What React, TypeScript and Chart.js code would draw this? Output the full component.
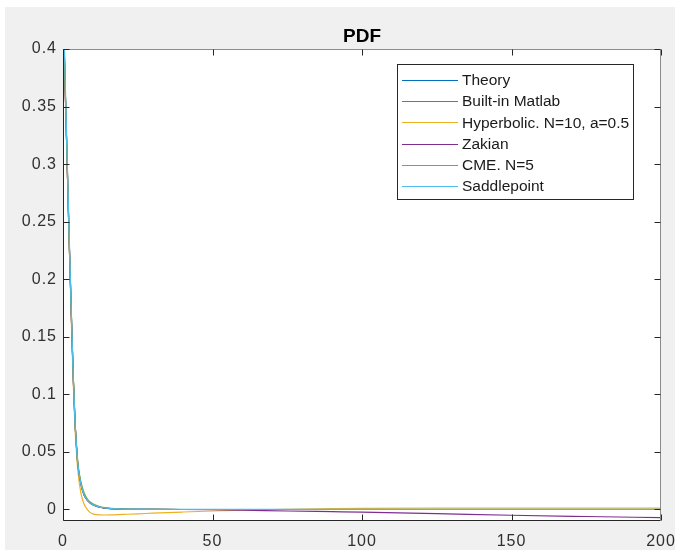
import React, { useEffect, useRef } from "react";
import { Chart, registerables } from "chart.js";

Chart.register(...registerables);

const titleText = "PDF";
const seriesNames = [
  "Theory",
  "Built-in Matlab",
  "Hyperbolic. N=10, a=0.5",
  "Zakian",
  "CME. N=5",
  "Saddlepoint",
];
const seriesColors = ["#0072BD", "#D95319", "#EDB120", "#7E2F8E", "#77AC30", "#4DBEEE"];

const xTicks = [0, 50, 100, 150, 200];
const xTickLabels = ["0", "50", "100", "150", "200"];
const yTicks = [0, 0.05, 0.1, 0.15, 0.2, 0.25, 0.3, 0.35, 0.4];
const yTickLabels = ["0", "0.05", "0.1", "0.15", "0.2", "0.25", "0.3", "0.35", "0.4"];

const xValues = [0, 0.5, 1, 1.5, 2, 2.5, 3, 3.5, 4, 4.5, 5, 6, 7, 8, 9, 10, 12, 14, 16, 20, 25, 30, 40, 50, 60, 75, 90, 100, 125, 150, 175, 200];

const theory = [0.45, 0.39, 0.34, 0.29, 0.24, 0.195, 0.15, 0.11, 0.077, 0.055, 0.038, 0.022, 0.013, 0.0085, 0.0058, 0.0042, 0.0022, 0.0012, 0.0007, 0.0003, 0.0001, 0.00005, 0, 0, 0, 0, 0, 0, 0, 0, 0, 0];
const builtIn = [0.45, 0.39, 0.34, 0.29, 0.24, 0.195, 0.15, 0.11, 0.077, 0.055, 0.038, 0.022, 0.013, 0.0085, 0.0058, 0.0042, 0.0022, 0.0012, 0.0007, 0.0003, 0.0001, 0.00005, 0, 0, 0, 0, 0, 0, 0, 0, 0, 0];
const hyperbolic = [0.45, 0.39, 0.34, 0.29, 0.24, 0.192, 0.145, 0.105, 0.072, 0.05, 0.033, 0.014, 0.005, 0.0005, -0.0025, -0.0038, -0.0047, -0.0048, -0.0047, -0.0043, -0.0038, -0.0032, -0.0022, -0.0013, -0.0006, 0.0002, 0.0008, 0.001, 0.0011, 0.0011, 0.0011, 0.0011];
const zakian = [0.45, 0.39, 0.34, 0.29, 0.24, 0.195, 0.15, 0.11, 0.077, 0.055, 0.038, 0.022, 0.013, 0.0085, 0.0058, 0.0042, 0.0022, 0.0012, 0.0007, 0.0003, 0.0001, 0.00005, 0, -0.0002, -0.0006, -0.0013, -0.0019, -0.0023, -0.0036, -0.005, -0.0061, -0.0071];
const cme = [0.45, 0.39, 0.34, 0.29, 0.24, 0.196, 0.152, 0.112, 0.079, 0.057, 0.04, 0.024, 0.015, 0.0098, 0.0068, 0.005, 0.0028, 0.0016, 0.0009, 0.0004, 0.0002, 0.0001, 0, 0, 0, 0, 0, 0, 0, 0, 0, 0];
const saddlepoint = [0.46, 0.4, 0.345, 0.295, 0.245, 0.198, 0.152, 0.11, 0.077, 0.055, 0.038, 0.022, 0.013, 0.0085, 0.0058, 0.0042, 0.0023, 0.0013, 0.0008, 0.0004, 0.0003, 0.0002, 0.0002, 0.0002, 0.0002, 0.0002, 0.0002, 0.0002, 0.0002, 0.0002, 0.0002, 0.0002];

const seriesValues = [theory, builtIn, hyperbolic, zakian, cme, saddlepoint];

const FONT = "'Liberation Sans', Arial, Helvetica, sans-serif";
const AXIS = "#262626";
const LABEL = "#303030";

const framePlugin = {
  id: "matlabFrame",
  beforeDraw(chart: any) {
    const { ctx, width, height, chartArea } = chart;
    ctx.save();
    ctx.fillStyle = "#ffffff";
    ctx.fillRect(0, 0, width, height);
    ctx.fillStyle = "#f0f0f0";
    ctx.fillRect(5, 7, width - 5, height - 7);
    ctx.fillStyle = "#ffffff";
    ctx.fillRect(chartArea.left, chartArea.top, chartArea.right - chartArea.left, chartArea.bottom - chartArea.top);
    ctx.restore();
    // slightly wider tick label spacing, as in the MATLAB rendering
    (ctx as any).letterSpacing = "1px";
  },
  afterDraw(chart: any) {
    const { ctx, chartArea } = chart;
    (ctx as any).letterSpacing = "0px";
    const xs = chart.scales.x;
    const ys = chart.scales.y;
    const L = Math.round(chartArea.left) + 0.5;
    const R = Math.round(chartArea.right) - 0.5;
    const T = Math.round(chartArea.top) + 0.5;
    const B = Math.round(chartArea.bottom) - 0.5;
    ctx.save();
    ctx.lineWidth = 1;
    ctx.strokeStyle = "#8c8c8c";
    ctx.beginPath();
    ctx.moveTo(L, T);
    ctx.lineTo(R, T);
    ctx.lineTo(R, B);
    ctx.stroke();
    ctx.strokeStyle = AXIS;
    ctx.beginPath();
    ctx.moveTo(L, T);
    ctx.lineTo(L, B);
    ctx.lineTo(R, B);
    ctx.stroke();
    const tl = 6;
    ctx.beginPath();
    xTicks.forEach((v) => {
      const px = Math.round(xs.getPixelForValue(v)) + 0.5;
      ctx.moveTo(px, B);
      ctx.lineTo(px, B - tl);
      ctx.moveTo(px, T);
      ctx.lineTo(px, T + tl);
    });
    yTicks.forEach((v) => {
      const py = Math.round(ys.getPixelForValue(v)) + 0.5;
      ctx.moveTo(L, py);
      ctx.lineTo(L + tl, py);
      ctx.moveTo(R, py);
      ctx.lineTo(R - tl, py);
    });
    ctx.stroke();

    ctx.fillStyle = "#000000";
    ctx.font = `bold 19px ${FONT}`;
    ctx.textAlign = "center";
    ctx.textBaseline = "alphabetic";
    ctx.fillText(titleText, (chartArea.left + chartArea.right) / 2, 42);

    const bx = 397.5, by = 64.5, bw = 236, bh = 135;
    ctx.fillStyle = "#ffffff";
    ctx.fillRect(bx, by, bw, bh);
    ctx.strokeStyle = AXIS;
    ctx.strokeRect(bx, by, bw, bh);
    ctx.font = `15.5px ${FONT}`;
    ctx.textAlign = "left";
    ctx.textBaseline = "middle";
    seriesNames.forEach((name, i) => {
      const cy = 80 + 21.2 * i;
      ctx.strokeStyle = seriesColors[i];
      ctx.lineWidth = 1.2;
      ctx.beginPath();
      ctx.moveTo(402, Math.round(cy) + 0.5);
      ctx.lineTo(458, Math.round(cy) + 0.5);
      ctx.stroke();
      ctx.fillStyle = "#1a1a1a";
      ctx.fillText(name, 462, cy + 1);
    });
    ctx.restore();
  },
};

export default function App() {
  const ref = useRef<HTMLCanvasElement | null>(null);

  useEffect(() => {
    document.body.style.margin = "0";
    const canvas = ref.current;
    if (!canvas) return;
    const datasets = seriesNames.map((name, i) => ({
      label: name,
      data: xValues.map((x, j) => ({ x, y: seriesValues[i][j] })),
      borderColor: seriesColors[i],
      backgroundColor: seriesColors[i],
      borderWidth: 1.2,
      pointRadius: 0,
      fill: false,
      order: seriesNames.length - 1 - i,
      cubicInterpolationMode: "monotone" as const,
    }));
    const chart = new Chart(canvas, {
      type: "line",
      data: { datasets },
      options: {
        responsive: false,
        animation: false,
        layout: { padding: { top: 49, right: 14, left: 0, bottom: 0 } },
        plugins: {
          legend: { display: false },
          title: { display: false },
          tooltip: { enabled: false },
        },
        scales: {
          x: {
            type: "linear",
            min: 0,
            max: 200,
            grid: { display: false, drawTicks: false },
            border: { display: false },
            afterBuildTicks: (s: any) => {
              s.ticks = xTicks.map((v) => ({ value: v }));
            },
            afterFit: (s: any) => {
              s.height = 29;
              s.paddingLeft = 0;
              s.paddingRight = 0;
            },
            ticks: {
              color: LABEL,
              font: { size: 16, family: FONT },
              padding: 11,
              maxRotation: 0,
              autoSkip: false,
              callback: (_v: any, i: number) => xTickLabels[i],
            },
          },
          y: {
            type: "linear",
            min: -0.01,
            max: 0.4,
            grid: { display: false, drawTicks: false },
            border: { display: false },
            afterBuildTicks: (s: any) => {
              s.ticks = yTicks.map((v) => ({ value: v }));
            },
            afterFit: (s: any) => {
              s.width = 63;
              s.paddingTop = 0;
              s.paddingBottom = 0;
            },
            ticks: {
              color: LABEL,
              font: { size: 16, family: FONT },
              padding: 6,
              autoSkip: false,
              callback: (_v: any, i: number) => yTickLabels[i],
            },
          },
        },
      },
      plugins: [framePlugin],
    });
    return () => chart.destroy();
  }, []);

  return (
    <div style={{ width: 675, height: 550 }}>
      <canvas ref={ref} width={675} height={550} style={{ display: "block", width: 675, height: 550 }} />
    </div>
  );
}
